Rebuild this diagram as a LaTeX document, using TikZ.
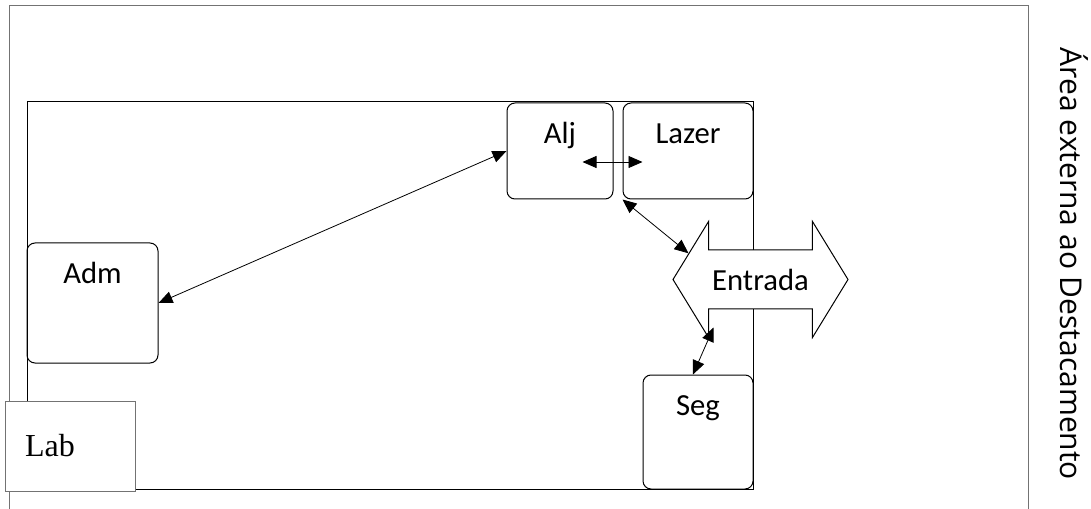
\documentclass[tikz,border=0pt]{standalone}
\usepackage{fontspec}
\setmainfont{Carlito}
\newfontfamily\labfont{Liberation Serif}
\newfontfamily\areafont{Open Sans}
\usetikzlibrary{shapes.arrows, arrows.meta, calc, positioning}

\begin{document}
\begin{tikzpicture}[x=0.75pt, y=-0.75pt, line width=0.75pt, font=\fontsize{23}{28}\selectfont,
	>={Triangle[length=10.5pt,width=9pt]}]
	\tikzset{room/.style={draw, rounded corners=6pt, inner sep=0pt}}
	\tikzset{roomname/.style={anchor=base, yshift=-30.75pt}}
	\tikzset{link/.style={<->, line width=0.6pt}}
	\useasboundingbox (0,0) rectangle (1091,509);
	% terreno e predio
	\draw[black!55] (9,509) -- (9,6) -- (1028,6) -- (1028,509);
	\draw (27,102) rectangle (753,489);
	\node[room, minimum width=98.25pt, minimum height=90pt, label={[roomname]north:Adm}] (Adm) at (92.5,303) {};
	\node[room, minimum width=79.5pt, minimum height=72pt, label={[roomname]north:Alj}] (Alj) at (560,151) {};
	\node[room, minimum width=97.5pt, minimum height=72pt, label={[roomname]north:Lazer}] (Lazer) at (688,151) {};
	\node[room, minimum width=82.5pt, minimum height=85.5pt, label={[roomname]north:Seg}] (Seg) at (698,432) {};
	\node[draw=black!55, fill=white, minimum height=67.5pt, text width=67.5pt, inner xsep=15pt,
		align=left, font=\labfont\fontsize{24}{28}\selectfont] (Lab) at (70,446) {Lab};
	\node[draw, fill=white, double arrow, double arrow tip angle=117, double arrow head extend=21.4pt,
		minimum height=131.25pt, minimum width=86.25pt, inner xsep=0pt, inner ysep=13.75pt,
		text height=16pt, text depth=0pt] (Entrada) at (760.5,279.5) {Entrada};
	\node[rotate=-90, anchor=base, font=\areafont\fontsize{22.5}{27}\selectfont] (Externa) at (1060,264)
		{Área externa ao Destacamento};
	% acessos
	\draw[link] (Adm.east) -- (Alj.west);
	\draw[link] ($(Alj.east)+(-31,11)$) -- ($(Lazer.west)+(20,11)$);
	\draw[link] (Lazer.south west) -- (Entrada.160);
	\draw[link] ($(Entrada.center)+(-47,48)$) -- (Seg.95);
\end{tikzpicture}
\end{document}
